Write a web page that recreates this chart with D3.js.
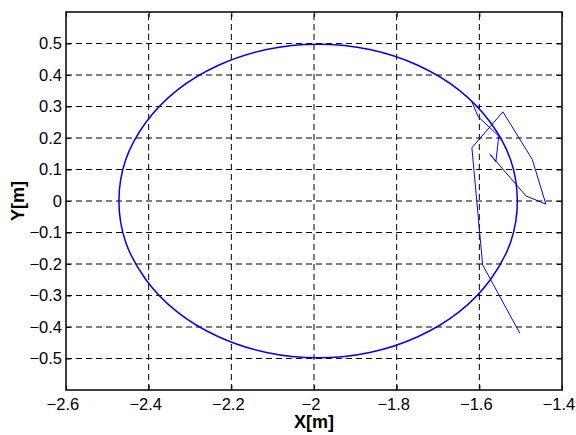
<!DOCTYPE html>
<html>
<head>
<meta charset="utf-8">
<script src="https://cdn.jsdelivr.net/npm/d3@7"></script>
<style>
	body { margin: 0; background: #fff; }
	svg { display: block; font-family: "Liberation Sans", Arial, sans-serif; }
	.grid line { stroke: #000; stroke-width: 1; stroke-dasharray: 6 4; }
	.tick-lbl { font-size: 16.5px; fill: #000; }
	.axis-lbl { font-size: 18px; font-weight: bold; fill: #000; }
</style>
</head>
<body>
<svg width="576" height="435"></svg>
<script>
// tick values
const xTicks = [-2.6, -2.4, -2.2, -2, -1.8, -1.6, -1.4]
const yTicks = [-0.5, -0.4, -0.3, -0.2, -0.1, 0, 0.1, 0.2, 0.3, 0.4, 0.5]

// steady-state orbit (closed loop)
const orbitX = [-1.508, -1.524, -1.573, -1.649, -1.749, -1.865, -1.990, -2.115, -2.231, -2.331, -2.407, -2.456,
	-2.472, -2.456, -2.407, -2.331, -2.231, -2.115, -1.990, -1.865, -1.749, -1.649, -1.573, -1.524]
const orbitY = [0, 0.129, 0.249, 0.352, 0.431, 0.481, 0.498, 0.481, 0.431, 0.352, 0.249, 0.129,
	0, -0.129, -0.249, -0.352, -0.431, -0.481, -0.498, -0.481, -0.431, -0.352, -0.249, -0.129]

// start-up transient
const transX = [-1.502, -1.592, -1.618, -1.543, -1.472, -1.439, -1.487, -1.574, -1.560, -1.553, -1.603, -1.618]
const transY = [-0.420, -0.203, 0.169, 0.283, 0.132, -0.010, 0.016, 0.148, 0.125, 0.206, 0.268, 0.315]

const margin = { left: 66, top: 12, right: 14, bottom: 45 }
const W = 576, H = 435
const svg = d3.select('svg')

const x = d3.scaleLinear().domain([-2.6, -1.4]).range([margin.left, W - margin.right])
const y = d3.scaleLinear().domain([-0.6, 0.6]).range([H - margin.bottom, margin.top])
const [x0, x1] = x.range()
const [y0, y1] = y.range()

// grid
const grid = svg.append('g').attr('class', 'grid')
grid.selectAll('line.gx')
	.data(xTicks.slice(1, -1))
	.join('line')
	.attr('x1', d => x(d)).attr('x2', d => x(d))
	.attr('y1', y0).attr('y2', y1)
grid.selectAll('line.gy')
	.data(yTicks)
	.join('line')
	.attr('class', 'gy')
	.attr('x1', x0).attr('x2', x1)
	.attr('y1', d => y(d)).attr('y2', d => y(d))

// lines
const orbit = d3.line()
	.x(i => x(orbitX[i]))
	.y(i => y(orbitY[i]))
	.curve(d3.curveCatmullRomClosed)
svg.append('path')
	.attr('d', orbit(d3.range(orbitX.length)))
	.attr('fill', 'none')
	.attr('stroke', '#0000ff')
	.attr('stroke-width', 1.5)

const trans = d3.line()
	.x(i => x(transX[i]))
	.y(i => y(transY[i]))
svg.append('path')
	.attr('d', trans(d3.range(transX.length)))
	.attr('fill', 'none')
	.attr('stroke', '#0000ff')
	.attr('stroke-width', 1)

// axes: inward ticks on all four sides, no domain path (frame drawn separately)
const tk = 5
const axB = d3.axisBottom(x).tickValues(xTicks).tickSize(-tk).tickPadding(8).tickFormat(d3.format('~g'))
const axT = d3.axisTop(x).tickValues(xTicks).tickSize(-tk).tickFormat('')
const axL = d3.axisLeft(y).tickValues(yTicks).tickSize(-tk).tickPadding(4).tickFormat(d3.format('~g'))
const axR = d3.axisRight(y).tickValues(yTicks).tickSize(-tk).tickFormat('')

const style = g => {
	g.select('.domain').remove()
	g.selectAll('.tick line').attr('stroke', '#000')
	g.selectAll('.tick text').attr('class', 'tick-lbl')
	g.attr('font-size', null).attr('font-family', null)
}
svg.append('g').attr('transform', `translate(0,${y0})`).call(axB).call(style)
	.selectAll('.tick text').attr('dx', -3.5)
svg.append('g').attr('transform', `translate(0,${y1})`).call(axT).call(style)
svg.append('g').attr('transform', `translate(${x0},0)`).call(axL).call(style)
svg.append('g').attr('transform', `translate(${x1},0)`).call(axR).call(style)

// frame
svg.append('rect')
	.attr('x', x0).attr('y', y1)
	.attr('width', x1 - x0).attr('height', y0 - y1)
	.attr('fill', 'none')
	.attr('stroke', '#000')
	.attr('stroke-width', 1.5)

// axis labels
svg.append('text')
	.attr('class', 'axis-lbl')
	.attr('x', (x0 + x1) / 2).attr('y', 428)
	.attr('text-anchor', 'middle')
	.text('X[m]')
svg.append('text')
	.attr('class', 'axis-lbl')
	.attr('transform', `translate(23.5,${(y0 + y1) / 2}) rotate(-90)`)
	.attr('text-anchor', 'middle')
	.text('Y[m]')
</script>
</body>
</html>
